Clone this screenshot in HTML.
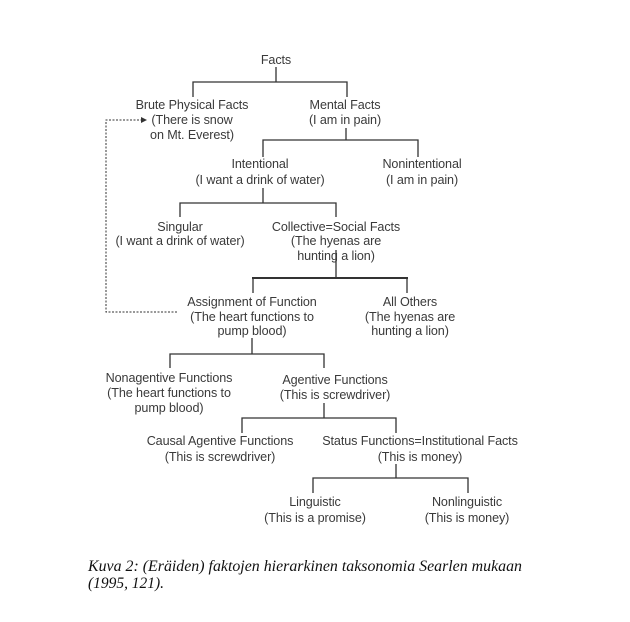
<!DOCTYPE html>
<html><head><meta charset="utf-8"><style>
html,body{margin:0;padding:0;background:#fff;width:630px;height:622px;overflow:hidden}
svg{display:block}
.t{font-family:"Liberation Sans",Arial,sans-serif;font-size:12.6px;fill:#3a3a3a;text-anchor:middle;letter-spacing:-0.1px}
.c{font-family:"Liberation Serif","Times New Roman",serif;font-style:italic;font-size:15.5px;fill:#111}
</style></head><body>
<svg width="630" height="622" viewBox="0 0 630 622">
<g stroke="#333" stroke-width="1.3" fill="none">
<path d="M276 67V82M193 97V82H347V97"/>
<path d="M346 128V140M263 157V140H418V157"/>
<path d="M263 188V203M180 217V203H336V217"/>
<path d="M336 250V278M253 293V278M407 293V278"/>
<path d="M252 278H408" stroke-width="2"/>
<path d="M252 338V354M170 368V354H324V368"/>
<path d="M324 403V418M242 433V418H396V433"/>
<path d="M396 464V478M313 493V478H468V493"/>
</g>
<g stroke="#333" stroke-width="1" fill="none" stroke-dasharray="2,1.5">
<path d="M177 312H106V120H141"/>
</g>
<path d="M141 117L147 120L141 123Z" fill="#333"/>
<g class="t">
<text x="276" y="64">Facts</text>
<text x="192" y="109">Brute Physical Facts</text>
<text x="192" y="124">(There is snow</text>
<text x="192" y="139">on Mt. Everest)</text>
<text x="345" y="109">Mental Facts</text>
<text x="345" y="124">(I am in pain)</text>
<text x="260" y="168">Intentional</text>
<text x="260" y="184">(I want a drink of water)</text>
<text x="422" y="168">Nonintentional</text>
<text x="422" y="184">(I am in pain)</text>
<text x="180" y="231">Singular</text>
<text x="180" y="245">(I want a drink of water)</text>
<text x="336" y="231">Collective=Social Facts</text>
<text x="336" y="245">(The hyenas are</text>
<text x="336" y="260">hunting a lion)</text>
<text x="252" y="306">Assignment of Function</text>
<text x="252" y="321">(The heart functions to</text>
<text x="252" y="335">pump blood)</text>
<text x="410" y="306">All Others</text>
<text x="410" y="321">(The hyenas are</text>
<text x="410" y="335">hunting a lion)</text>
<text x="169" y="382">Nonagentive Functions</text>
<text x="169" y="397">(The heart functions to</text>
<text x="169" y="412">pump blood)</text>
<text x="335" y="384">Agentive Functions</text>
<text x="335" y="399">(This is screwdriver)</text>
<text x="220" y="445">Causal Agentive Functions</text>
<text x="220" y="461">(This is screwdriver)</text>
<text x="420" y="445">Status Functions=Institutional Facts</text>
<text x="420" y="461">(This is money)</text>
<text x="315" y="506">Linguistic</text>
<text x="315" y="522">(This is a promise)</text>
<text x="467" y="506">Nonlinguistic</text>
<text x="467" y="522">(This is money)</text>
</g>
<text class="c" x="88" y="571" textLength="434" lengthAdjust="spacingAndGlyphs">Kuva 2: (Eräiden) faktojen hierarkinen taksonomia Searlen mukaan</text>
<text class="c" x="88" y="588" textLength="76" lengthAdjust="spacingAndGlyphs">(1995, 121).</text>
</svg>
</body></html>
